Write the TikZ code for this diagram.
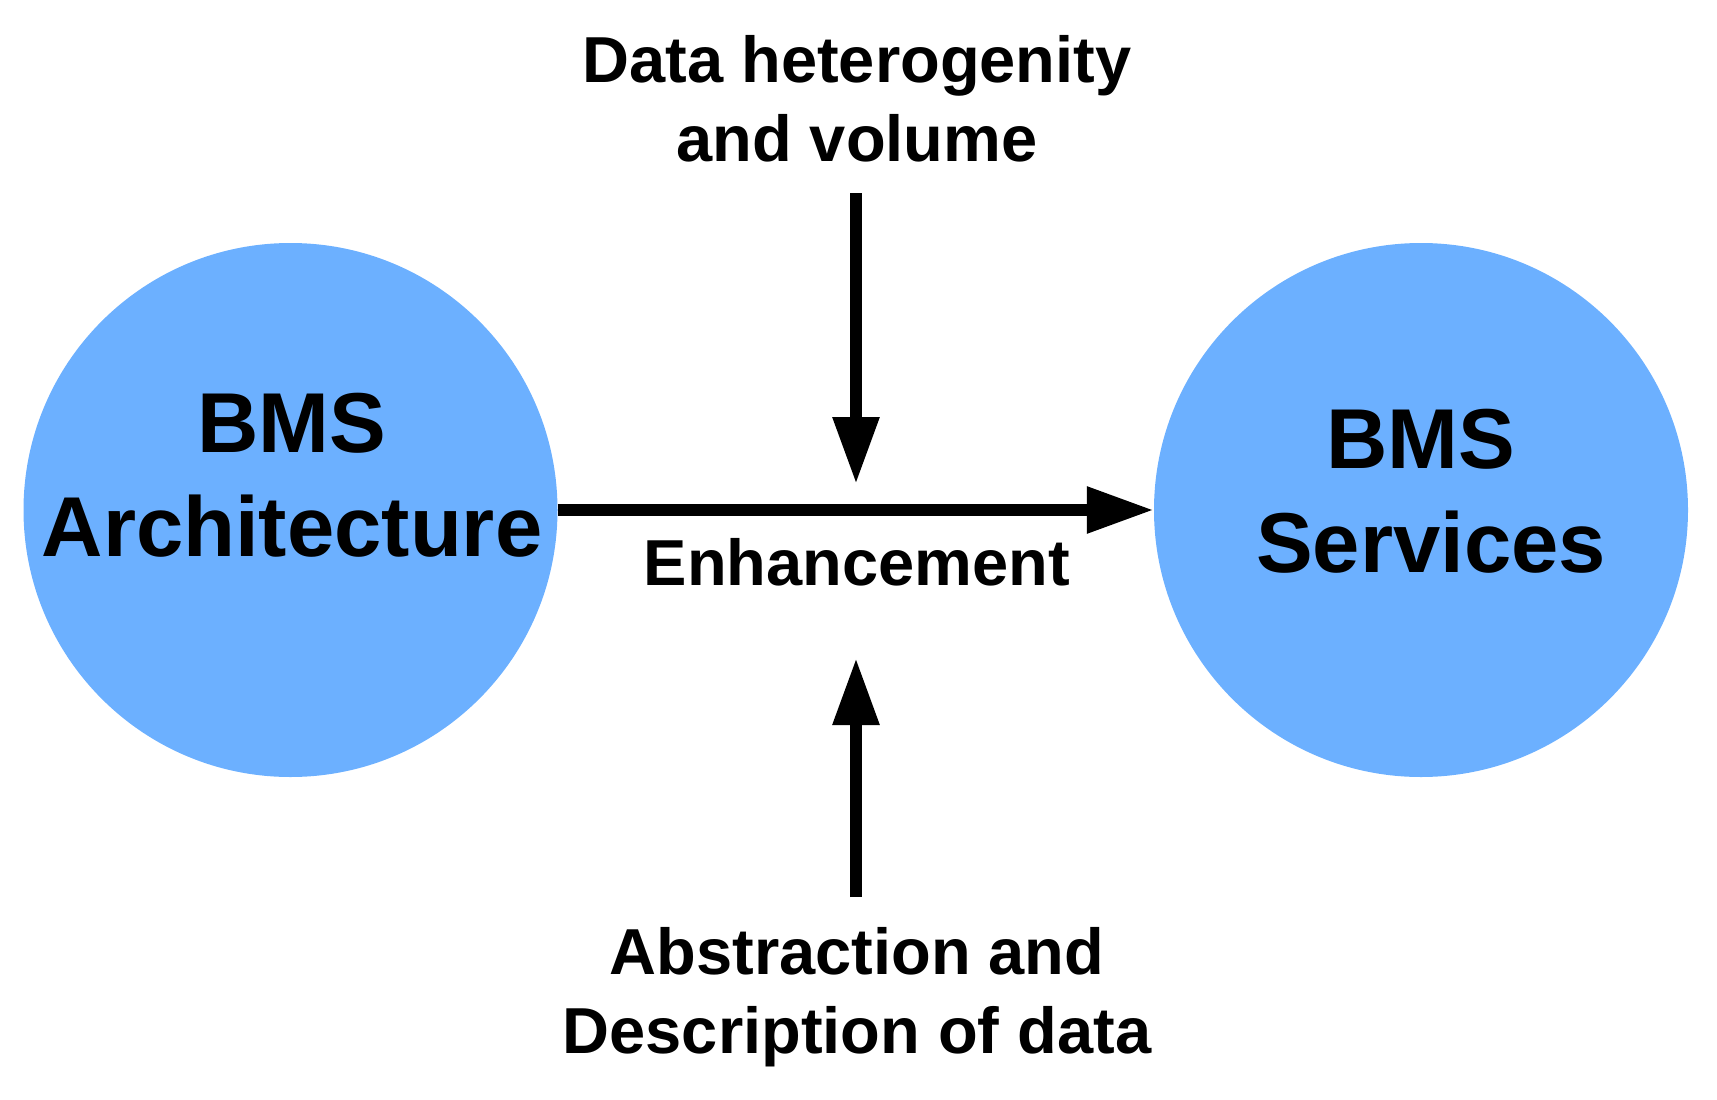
\documentclass[tikz,border=0pt]{standalone}
\usepackage{fontspec}
\setmainfont{Liberation Sans}
\usetikzlibrary{arrows.meta}
\definecolor{bmsblue}{RGB}{108,176,255}
\tikzset{
  bubble/.style={circle, fill=bmsblue, draw=none, minimum size=534pt, inner sep=0pt},
  bigtext/.style={font=\fontsize{85}{104}\selectfont\bfseries, align=center, inner sep=0pt, text=black},
  smalltext/.style={font=\fontsize{65}{79}\selectfont\bfseries, align=center, inner sep=0pt, text=black},
  arr/.style={line width=12pt, draw=black, -{Triangle[length=67pt, width=44pt]}}
}
\begin{document}
\begin{tikzpicture}[x=1pt,y=-1pt]
\useasboundingbox (0,0) rectangle (1717,1100);
\node[bubble] (arch) at (290.5,510) {};
\node[bubble] (serv) at (1421,510) {};
\node[bigtext] (archtxt) at (292,475) {BMS\\Architecture};
\node[bigtext] (servtxt) at (1431,491) {BMS\hspace*{20pt}\\Services};
\node[smalltext] (top) at (857,99) {Data heterogenity\\and volume};
\node[smalltext] (enh) at (857,562) {Enhancement};
\node[smalltext] (bot) at (857,997) {Abstraction and\\Description of data};
\coordinate (t1) at (856,193);
\coordinate (t2) at (856,484);
\coordinate (b1) at (856,897);
\coordinate (b2) at (856,658);
\draw[arr] (arch.east) -- (serv.west);
\draw[arr] (t1) -- (t2);
\draw[arr] (b1) -- (b2);
\end{tikzpicture}
\end{document}
